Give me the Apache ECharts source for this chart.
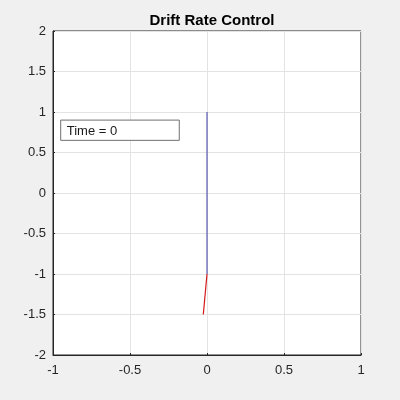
<!DOCTYPE html>
<html><head><meta charset="utf-8">
<script src="https://cdn.jsdelivr.net/npm/echarts@6/dist/echarts.min.js"></script>
<style>html,body{margin:0;padding:0;background:#f0f0f0}#c{width:400px;height:400px}</style>
</head><body><div id="c"></div>
<script>
const titleText = 'Drift Rate Control';
const xTicks = [-1, -0.5, 0, 0.5, 1];
const yTicks = [-2, -1.5, -1, -0.5, 0, 0.5, 1, 1.5, 2];
const bluePath = [[0, 1], [0, -1]];
const redPath = [[0, -1], [-0.024, -1.5]];
const boxRect = [[-0.95, 0.9, -0.18, 0.65]];
const boxLabel = 'Time = 0';

const chart = echarts.init(document.getElementById('c'));
const font = 'Liberation Sans, Arial, sans-serif';
chart.setOption({
  backgroundColor: '#f0f0f0',
  animation: false,
  title: { text: titleText, left: 207, top: 8, textAlign: 'center',
    textStyle: { fontFamily: font, fontSize: 15, fontWeight: 'bold', color: '#000' } },
  grid: { left: 53, right: 39, top: 31, bottom: 45, show: true, backgroundColor: '#fff', borderColor: '#262626', borderWidth: 1 },
  xAxis: { type: 'value', min: -1, max: 1, interval: 0.5,
    axisLine: { show: true, onZero: false, lineStyle: { color: '#262626' } },
    axisTick: { show: true, inside: true, length: 2, lineStyle: { color: '#262626' } },
    axisLabel: { fontFamily: font, fontSize: 13, color: '#262626', margin: 9,
      formatter: v => String(v) },
    splitLine: { show: true, lineStyle: { color: '#e3e3e3' } } },
  yAxis: { type: 'value', min: -2, max: 2, interval: 0.5,
    axisLine: { show: true, onZero: false, lineStyle: { color: '#262626' } },
    axisTick: { show: true, inside: true, length: 2, lineStyle: { color: '#262626' } },
    axisLabel: { fontFamily: font, fontSize: 13, color: '#262626', margin: 7,
      formatter: v => String(v) },
    splitLine: { show: true, lineStyle: { color: '#e3e3e3' } } },
  series: [
    { type: 'line', data: bluePath, showSymbol: false, lineStyle: { color: '#3a3aa0', width: 1 }, z: 3 },
    { type: 'line', data: redPath, showSymbol: false, lineStyle: { color: '#d41818', width: 1.2 }, z: 3 },
    { type: 'custom', data: boxRect, z: 4,
      renderItem: (params, api) => {
        const p1 = api.coord([api.value(0), api.value(1)]);
        const p2 = api.coord([api.value(2), api.value(3)]);
        return { type: 'group', children: [
          { type: 'rect', shape: { x: p1[0], y: p1[1], width: p2[0] - p1[0], height: p2[1] - p1[1] },
            style: { fill: '#fff', stroke: '#707070', lineWidth: 1 } },
          { type: 'text', style: { x: p1[0] + 6, y: (p1[1] + p2[1]) / 2 + 1, text: boxLabel,
            fontFamily: font, fontSize: 13, fill: '#1a1a1a', verticalAlign: 'middle' } }
        ] };
      } }
  ]
});
</script></body></html>
